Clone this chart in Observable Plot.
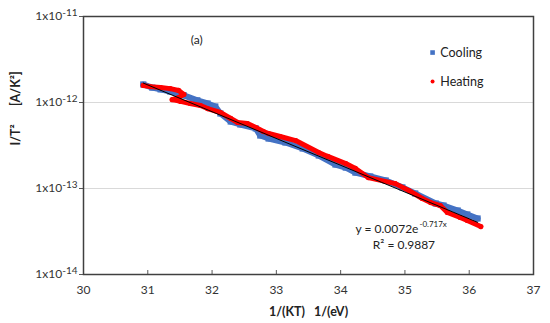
<!DOCTYPE html>
<html>
<head>
<meta charset="utf-8">
<script src="https://cdn.jsdelivr.net/npm/d3@7"></script>
<script src="https://cdn.jsdelivr.net/npm/@observablehq/plot@0.6"></script>
<style>
  html, body { margin: 0; padding: 0; background: #fff; }
  #chart { width: 550px; height: 323px; }
</style>
</head>
<body>
<div id="chart"></div>
<script>
// Cooling series (1/kT in 1/eV, I/T^2 in A/K^2)
const coolX = [30.93, 31.07, 31.20, 31.35, 31.56, 31.77, 31.93, 32.05, 32.13, 32.29, 32.44, 32.68, 32.75, 32.88, 33.14, 33.41, 33.66, 33.92, 34.08, 34.23, 34.46, 34.70, 34.96, 35.16, 35.48, 35.60, 35.82, 35.97, 36.13];
const coolY = [1.62e-12, 1.49e-12, 1.42e-12, 1.34e-12, 1.21e-12, 1.06e-12, 9.74e-13, 8.98e-13, 7.45e-13, 6.01e-13, 5.55e-13, 4.99e-13, 4.13e-13, 3.81e-13, 3.43e-13, 2.92e-13, 2.42e-13, 1.90e-13, 1.75e-13, 1.53e-13, 1.38e-13, 1.24e-13, 1.03e-13, 8.75e-14, 6.69e-14, 6.34e-14, 5.55e-14, 4.99e-14, 4.48e-14];
// Heating series
const heatX = [30.93, 31.04, 31.20, 31.35, 31.48, 31.56, 31.48, 31.38, 31.51, 31.66, 31.82, 31.93, 32.13, 32.29, 32.40, 32.55, 32.68, 32.80, 32.88, 33.06, 33.30, 33.66, 33.80, 34.08, 34.23, 34.43, 34.85, 35.06, 35.27, 35.40, 35.55, 35.66, 35.86, 35.97, 36.18];
const heatY = [1.58e-12, 1.53e-12, 1.49e-12, 1.45e-12, 1.38e-12, 1.24e-12, 1.14e-12, 1.08e-12, 1.03e-12, 9.74e-13, 9.23e-13, 8.51e-13, 7.65e-13, 6.52e-13, 5.85e-13, 5.70e-13, 5.12e-13, 4.60e-13, 4.36e-13, 4.02e-13, 3.61e-13, 2.62e-13, 2.36e-13, 1.95e-13, 1.71e-13, 1.34e-13, 1.14e-13, 9.48e-14, 7.65e-14, 6.87e-14, 6.34e-14, 5.26e-14, 4.60e-14, 4.25e-14, 3.61e-14];
// Exponential trendline y = A e^(B x)
const fitA = 0.0072, fitB = -0.717;
const fitRange = [30.93, 36.13];
// Axis ticks
const xTicks = [30, 31, 32, 33, 34, 35, 36, 37];
const yTicks = [1e-14, 1e-13, 1e-12, 1e-11];
const gridY = [1e-13, 1e-12];
// Text
const seriesNames = ["Cooling", "Heating"];
const colors = ["#4472C4", "#FF0000"];
const xLabel = "1/(KT)   1/(eV)";
const yLabel = "I/T²      [A/K²]";
const panelLabel = "(a)";
const eqMain = "y = 0.0072e";
const eqSup = "-0.717x";
const r2Text = "R² = 0.9887";

const cool = coolX.map((x, i) => ({x, y: coolY[i]}));
const heat = heatX.map((x, i) => ({x, y: heatY[i]}));
const fit = fitRange.map(x => ({x, y: fitA * Math.exp(fitB * x)}));

const font = "Lato, 'Open Sans', sans-serif";

const plot = Plot.plot({
  width: 550,
  height: 323,
  marginLeft: 83,
  marginRight: 17,
  marginTop: 16,
  marginBottom: 49,
  style: {fontFamily: font, fontSize: "12px", color: "#333", background: "#fff"},
  x: {domain: [30, 37], ticks: xTicks},
  y: {type: "log", domain: [1e-14, 1e-11], ticks: yTicks},
  marks: [
    Plot.ruleY(gridY, {y: d => d, stroke: "#d9d9d9", strokeWidth: 1}),
    Plot.axisX(xTicks, {tickSize: -4, tickPadding: 15, stroke: "#595959", fill: "#333", fontSize: 12, label: null}),
    Plot.axisY(yTicks, {tickSize: 4, tickPadding: 2, stroke: "#595959", fill: "#333", fontSize: 12, label: null,
      tickFormat: d => "1x10|" + Math.round(Math.log10(d))}),
    Plot.line(cool, {x: "x", y: "y", stroke: colors[0], strokeWidth: 6, strokeLinejoin: "round"}),
    Plot.dot(cool, {x: "x", y: "y", symbol: "square", r: 3.5, fill: colors[0]}),
    Plot.line(heat, {x: "x", y: "y", stroke: colors[1], strokeWidth: 5, strokeLinejoin: "round", strokeLinecap: "round"}),
    Plot.dot(heat, {x: "x", y: "y", r: 2.6, fill: colors[1]}),
    Plot.line(fit, {x: "x", y: "y", stroke: "#000", strokeWidth: 1}),
    Plot.frame({stroke: "#404040", strokeWidth: 1.5}),
    // legend
    Plot.dot([{x: 35.43, y: 3.81e-12}], {x: "x", y: "y", symbol: "square", r: 2.6, fill: colors[0]}),
    Plot.dot([{x: 35.43, y: 1.75e-12}], {x: "x", y: "y", r: 2, fill: colors[1]}),
    Plot.text([{x: 35.55, y: 3.81e-12, t: seriesNames[0]}, {x: 35.55, y: 1.75e-12, t: seriesNames[1]}],
      {x: "x", y: "y", text: "t", textAnchor: "start", fontSize: 12.5, fill: "#222"}),
    // panel label
    Plot.text([{x: 31.76, y: 5.26e-12}], {x: "x", y: "y", text: () => panelLabel, fontSize: 12, fill: "#222"}),
    // equation
    Plot.text([{x: 35.21, y: 3.34e-14}], {x: "x", y: "y", text: () => eqMain, textAnchor: "end", fontSize: 12, fill: "#222"}),
    Plot.text([{x: 35.21, y: 3.34e-14}], {x: "x", y: "y", text: () => eqSup, textAnchor: "start", fontSize: 8, dy: -5, dx: 1, fill: "#222"}),
    Plot.text([{x: 34.50, y: 2.17e-14}], {x: "x", y: "y", text: () => r2Text, textAnchor: "start", fontSize: 12, fill: "#222"}),
    // axis titles
    Plot.text([xLabel], {frameAnchor: "bottom", text: d => d, dy: 41, fontWeight: "bold", fontSize: 12.5, fill: "#222"}),
    Plot.text([yLabel], {frameAnchor: "left", text: d => d, dx: -68, rotate: -90, fontWeight: "bold", fontSize: 12.5, fill: "#222"})
  ]
});

// superscript exponents on y tick labels
d3.select(plot).selectAll('g[aria-label="y-axis tick label"] text').each(function() {
  const t = d3.select(this);
  const s = t.text();
  if (s.includes("|")) {
    const [base, exp] = s.split("|");
    t.text(null);
    t.append("tspan").text(base);
    t.append("tspan").attr("dy", "-0.45em").attr("font-size", "10px").text(exp);
  }
});

document.getElementById("chart").appendChild(plot);
</script>
</body>
</html>
